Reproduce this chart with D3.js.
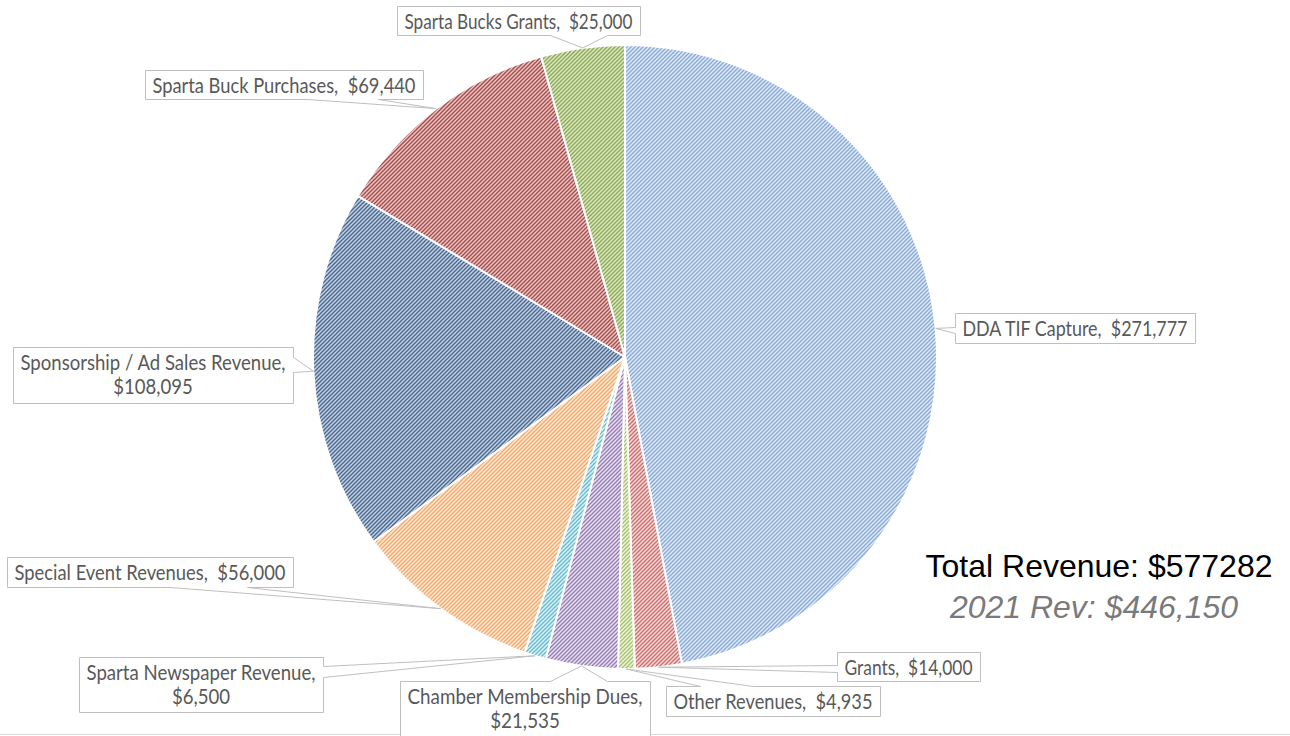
<!DOCTYPE html>
<html>
<head>
<meta charset="utf-8">
<script src="https://cdn.jsdelivr.net/npm/d3@7"></script>
<style>
  html, body { margin: 0; padding: 0; background: #fff; }
  svg { display: block; }
</style>
</head>
<body>
<div id="chart"></div>
<script>
'use strict'

// revenue categories, clockwise from 12 o'clock
var categories = [
  'DDA TIF Capture',
  'Grants',
  'Other Revenues',
  'Chamber Membership Dues',
  'Sparta Newspaper Revenue',
  'Special Event Revenues',
  'Sponsorship / Ad Sales Revenue',
  'Sparta Buck Purchases',
  'Sparta Bucks Grants'
]
var revenues = [271777, 14000, 4935, 21535, 6500, 56000, 108095, 69440, 25000]
var totalLabel = 'Total Revenue: $577282'
var priorLabel = '2021 Rev: $446,150'

// pattern fill per slice: [background, stripe]
var fills = [
  ['#e0e9f6', '#86a9dc'],
  ['#f4dedd', '#d56865'],
  ['#edf3df', '#a7c36a'],
  ['#e6e0ee', '#957cb6'],
  ['#dcf0f6', '#64bcd5'],
  ['#feebdb', '#f9a662'],
  ['#c2d0e2', '#46668f'],
  ['#eac4c3', '#a54a48'],
  ['#dce8c4', '#89a84f']
]

// callout boxes: box, edge that carries the pointer, pointer base offsets
var callouts = [
  { x: 955, y: 313, w: 240, h: 30, side: 'left', a: 14, b: 20, lines: 1 },
  { x: 837, y: 652, w: 143, h: 29, side: 'left', a: 13, b: 20, lines: 1 },
  { x: 666, y: 686, w: 214, h: 30, side: 'top', a: 34, b: 87, lines: 1 },
  { x: 400, y: 681, w: 250, h: 57, side: 'top', a: 150, b: 207, lines: 2 },
  { x: 79, y: 657, w: 244, h: 55, side: 'right', a: 9, b: 20, lines: 2 },
  { x: 7, y: 557, w: 286, h: 30, side: 'bottom', a: 163, b: 240, lines: 1 },
  { x: 13, y: 347, w: 280, h: 56, side: 'right', a: 10, b: 25, lines: 2 },
  { x: 145, y: 70, w: 278, h: 29, side: 'bottom', a: 162, b: 233, lines: 1 },
  { x: 397, y: 6, w: 243, h: 29, side: 'bottom', a: 153, b: 210, lines: 1 }
]

var width = 1290
var height = 736
var cx = 625
var cy = 357
var radius = 312

var svg = d3
  .select('#chart')
  .append('svg')
  .attr('width', width)
  .attr('height', height)

var defs = svg.append('defs')
fills.forEach(function(f, i) {
  var p = defs
    .append('pattern')
    .attr('id', 'hatch' + i)
    .attr('patternUnits', 'userSpaceOnUse')
    .attr('width', 4)
    .attr('height', 4)
  p.append('rect')
    .attr('width', 4)
    .attr('height', 4)
    .attr('fill', f[0])
  p.append('path')
    .attr('d', 'M-1,1 l2,-2 M0,4 l4,-4 M3,5 l2,-2')
    .attr('stroke', f[1])
    .attr('stroke-width', 1.3)
})

var data = categories.map(function(c, i) {
  return { name: c, value: revenues[i], i: i }
})

var pie = d3
  .pie()
  .sort(null)
  .value(function(d) {
    return d.value
  })

var arc = d3
  .arc()
  .innerRadius(0)
  .outerRadius(radius)

var edge = d3
  .arc()
  .innerRadius(radius)
  .outerRadius(radius)

var arcs = pie(data)

var g = svg.append('g').attr('transform', 'translate(' + cx + ',' + cy + ')')

g.selectAll('path.slice')
  .data(arcs)
  .enter()
  .append('path')
  .attr('class', 'slice')
  .attr('d', arc)
  .attr('fill', function(d) {
    return 'url(#hatch' + d.data.i + ')'
  })
  .attr('stroke', '#fff')
  .attr('stroke-width', 2)
  .attr('stroke-linejoin', 'round')

// bottom border of the chart area
svg
  .append('line')
  .attr('x1', 0)
  .attr('x2', width)
  .attr('y1', 734.5)
  .attr('y2', 734.5)
  .attr('stroke', '#d9d9d9')

function calloutPath(c, tip) {
  var x0 = c.x + 0.5
  var y0 = c.y + 0.5
  var x1 = x0 + c.w
  var y1 = y0 + c.h
  var p = [[x0, y0]]
  if (c.side === 'top') p.push([x0 + c.a, y0], tip, [x0 + c.b, y0])
  p.push([x1, y0])
  if (c.side === 'right') p.push([x1, y0 + c.a], tip, [x1, y0 + c.b])
  p.push([x1, y1])
  if (c.side === 'bottom') p.push([x0 + c.b, y1], tip, [x0 + c.a, y1])
  p.push([x0, y1])
  if (c.side === 'left') p.push([x0, y0 + c.b], tip, [x0, y0 + c.a])
  return d3.line()(p) + 'Z'
}

var money = d3.format('$,')

arcs.forEach(function(d) {
  var c = callouts[d.data.i]
  var t = edge.centroid(d)
  var tip = [t[0] + cx, t[1] + cy]

  svg
    .append('path')
    .attr('d', calloutPath(c, tip))
    .attr('fill', '#fff')
    .attr('stroke', '#bfbfbf')
    .attr('stroke-width', 1)

  var lines =
    c.lines === 2
      ? [d.data.name + ',', money(d.data.value)]
      : [d.data.name + ',  ' + money(d.data.value)]

  var texts = lines.map(function(s, k) {
    return svg
      .append('text')
      .attr('x', c.x + c.w / 2)
      .attr('y', c.y + 23 + k * 24)
      .attr('text-anchor', 'middle')
      .attr('font-family', 'Lato, sans-serif')
      .attr('font-size', '20.5px')
      .attr('fill', '#595959')
      .style('white-space', 'pre')
      .attr('xml:space', 'preserve')
      .text(s)
  })

  // squeeze text to the box width (Calibri is narrower than Lato)
  var widest = d3.max(texts, function(t) {
    return t.node().getComputedTextLength()
  })
  var avail = c.w - 15
  if (widest > avail) {
    var k = avail / widest
    texts.forEach(function(t) {
      t.attr('textLength', t.node().getComputedTextLength() * k)
        .attr('lengthAdjust', 'spacingAndGlyphs')
    })
  }
})

svg
  .append('text')
  .attr('x', 1099)
  .attr('y', 577)
  .attr('text-anchor', 'middle')
  .attr('font-family', 'Liberation Sans, Arial, sans-serif')
  .attr('font-size', '32px')
  .attr('fill', '#000')
  .text(totalLabel)

svg
  .append('text')
  .attr('x', 1094)
  .attr('y', 618)
  .attr('text-anchor', 'middle')
  .attr('font-family', 'Liberation Sans, Arial, sans-serif')
  .attr('font-style', 'italic')
  .attr('font-size', '32px')
  .attr('fill', '#7a7a7a')
  .text(priorLabel)
</script>
</body>
</html>
